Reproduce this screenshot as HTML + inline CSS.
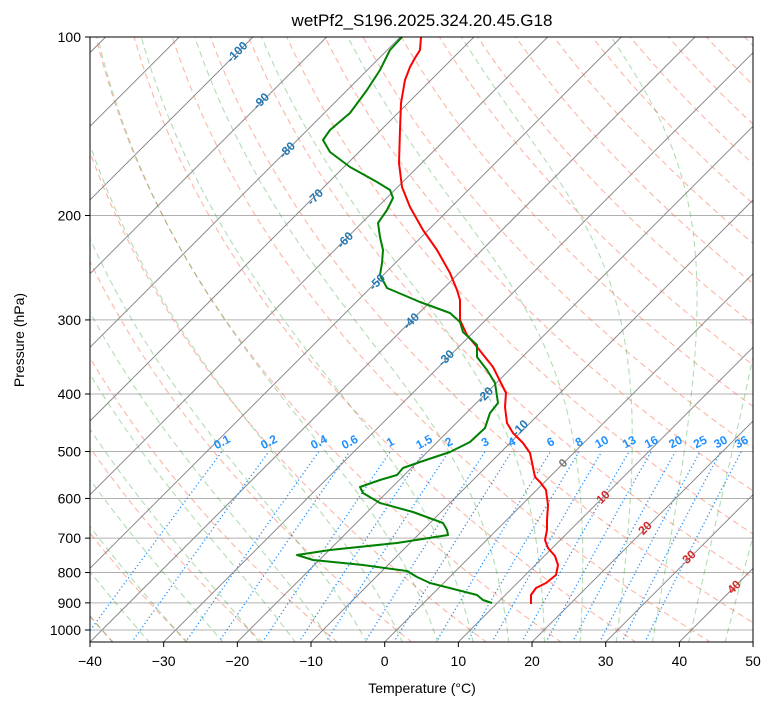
<!DOCTYPE html>
<html><head><meta charset="utf-8"><style>
html,body{margin:0;padding:0;background:#fff;}
svg{display:block;font-family:"Liberation Sans","DejaVu Sans",sans-serif;}
</style></head><body>
<svg id="s" width="775" height="708" viewBox="0 0 775 708" xmlns="http://www.w3.org/2000/svg">
<defs><clipPath id="c"><rect x="90" y="37" width="663" height="605"/></clipPath></defs>
<rect width="775" height="708" fill="#fff"/>
<g id="bg" clip-path="url(#c)"></g>
<g clip-path="url(#c)" fill="none" stroke-width="2" stroke-linejoin="round">
<polyline stroke="#ff0000" points="421,37 420,50 415,58 410,67 405,80 401,103 400,130 399,163 402,187 410,207 423,230 437,250 450,273 457,290 460,300 460,320 467,335 477,347 493,367 503,387 506,393 505,407 507,423 513,433 523,443 530,453 535,477 540,482 546,490 548,505 547,520 547,530 545,540 548,548 555,556 558,565 556,575 546,583 536,588 531,595 531,604"/>
<polyline stroke="#008000" points="402,37 390,50 380,70 367,90 350,113 330,130 323,140 330,152 350,167 377,182 390,190 393,198 387,210 378,223 380,237 383,250 382,263 380,275 387,288 420,302 450,313 460,322 463,332 477,345 477,357 487,370 495,383 498,403 490,413 485,428 470,442 450,452 420,462 403,468 397,475 380,480 360,487 363,493 380,503 413,512 443,523 447,530 448,535 397,543 330,550 297,555 313,560 363,565 407,571 417,577 430,583 477,595 483,600 492,603"/>
</g>
<g id="lab" font-weight="bold" font-size="12"></g>
<rect x="90" y="37" width="663" height="605" fill="none" stroke="#000" stroke-width="1"/>
<g id="ax" font-size="14" fill="#000"></g>
<text x="422" y="26" text-anchor="middle" font-size="17">wetPf2_S196.2025.324.20.45.G18</text>
<text x="422" y="693" text-anchor="middle" font-size="14">Temperature (°C)</text>
<text transform="translate(24,340) rotate(-90)" text-anchor="middle" font-size="14">Pressure (hPa)</text>
</svg>
<script>
var NS="http://www.w3.org/2000/svg";
function Y(p){return 37+593*Math.log10(p/100);}
function X(T,p){return 90+(T+40)*7.367+(642-Y(p));}
function el(par,tag,at,txt){var e=document.createElementNS(NS,tag);for(var k in at)e.setAttribute(k,at[k]);if(txt!=null)e.textContent=txt;document.getElementById(par).appendChild(e);return e;}
function pl(pts,at){at.points=pts.map(function(q){return q[0].toFixed(1)+","+q[1].toFixed(1)}).join(" ");at.fill="none";el("bg","polyline",at);}
var ps=[];for(var p=1050;p>=100;p-=5)ps.push(p);
[100,200,300,400,500,600,700,800,900,1000].forEach(function(p){el("bg","line",{x1:90,x2:753,y1:Y(p),y2:Y(p),stroke:"#b0b0b0","stroke-width":1});});
for(var t0=-40;t0<=200;t0+=10){var th=t0+273.15;pl(ps.map(function(p){return [X(th*Math.pow(p/1000,0.2857)-273.15,p),Y(p)]}),{stroke:"rgba(250,110,80,0.5)","stroke-width":1.1,"stroke-dasharray":"6,4"});}
function es(T){return 6.112*Math.exp(17.67*T/(T+243.5));}
function dTdp(T,p){var Tk=T+273.15,rs=0.622*es(T)/(p-es(T));var Rd=287.04,Lv=2.501e6,Cp=1005.7;return (Rd*Tk+Lv*rs)/(Cp+Lv*Lv*rs*0.622/(Rd*Tk*Tk))/p;}
for(var t0=-40;t0<=45;t0+=5){var T=t0,p;var up=[];for(p=1000;p>=100;p-=2){up.push([X(T,p),Y(p)]);T-=dTdp(T,p)*2;}
T=t0;var dn=[];for(p=1000;p<=1052;p+=2){dn.push([X(T,p),Y(p)]);T+=dTdp(T,p)*2;}
pl(dn.reverse().concat(up),{stroke:"rgba(0,140,0,0.3)","stroke-width":1.1,"stroke-dasharray":"6,4"});}
for(var t=-150;t<=60;t+=10){var xb=90+(t+40)*7.367;el("bg","line",{x1:xb,y1:642,x2:xb+700,y2:-58,stroke:"#8a8a8a","stroke-width":1});}
var ws=[0.1,0.2,0.4,0.6,1,1.5,2,3,4,6,8,10,13,16,20,25,30,36];
ws.forEach(function(w){var pts=[];for(var p=1050;p>=500;p-=10){var e=w*p/(622+w),l=Math.log(e/6.112);var Td=243.5*l/(17.67-l);pts.push([X(Td,p),Y(p)]);}pl(pts,{stroke:"#1e90ff","stroke-width":1.3,"stroke-dasharray":"1.2,2.6"});
var x=pts[pts.length-1][0];el("lab","text",{x:x,y:446,fill:"#1e90ff","text-anchor":"middle",transform:"rotate(-28 "+x+" 442)"},String(w));});
var L=[[-100,237,52],[-90,261,101],[-80,287,150],[-70,315,197],[-60,345,240],[-50,377,282],[-40,411,321],[-30,446,358],[-20,485,395],[-10,520,428]];
L.forEach(function(a){el("lab","text",{x:a[1],y:a[2]+4,fill:"#1f77b4","text-anchor":"middle",transform:"rotate(-45 "+a[1]+" "+a[2]+")"},String(a[0]));});
[[0,563,463,"#777"],[10,603,497,"#d62728"],[20,645,528,"#d62728"],[30,689,557,"#d62728"],[40,734,587,"#d62728"]].forEach(function(a){el("lab","text",{x:a[1],y:a[2]+4,fill:a[3],"text-anchor":"middle",transform:"rotate(-45 "+a[1]+" "+a[2]+")"},String(a[0]));});
for(var t=-40;t<=50;t+=10){var x=90+(t+40)*7.367;el("ax","line",{x1:x,x2:x,y1:642,y2:647,stroke:"#000"});el("ax","text",{x:x,y:666,"text-anchor":"middle"},(t<0?"\u2212"+(-t):String(t)));}
[100,200,300,400,500,600,700,800,900,1000].forEach(function(p){var y=Y(p);el("ax","line",{x1:85,x2:90,y1:y,y2:y,stroke:"#000"});el("ax","text",{x:81,y:y+5,"text-anchor":"end"},String(p));});
</script>
</body></html>
